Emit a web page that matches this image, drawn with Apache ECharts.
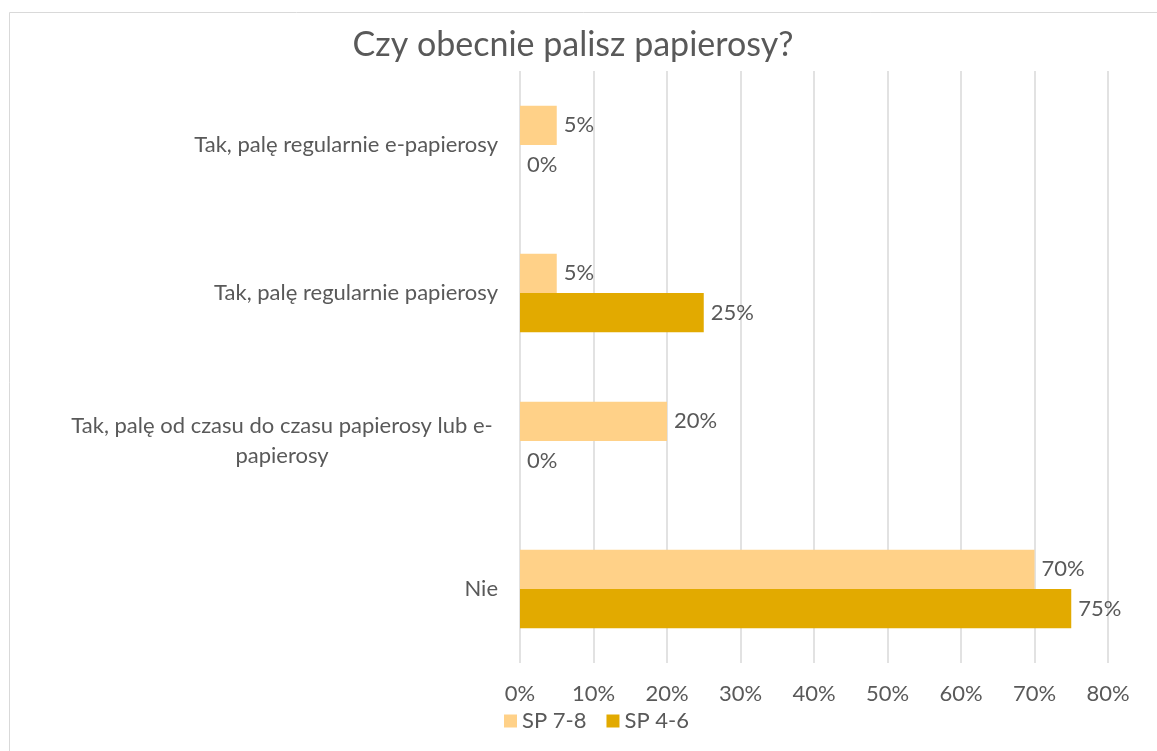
<!DOCTYPE html>
<html><head><meta charset="utf-8">
<script src="https://cdn.jsdelivr.net/npm/echarts@6/dist/echarts.min.js"></script>
<style>html,body{margin:0;padding:0;background:#fff}#c{width:1157px;height:751px}</style>
</head><body><div id="c"></div>
<script>
const categories = ["Tak, palę regularnie e-papierosy", "Tak, palę regularnie papierosy", "Tak, palę od czasu do czasu papierosy lub e-\npapierosy", "Nie"];
const seriesNames = ["SP 7-8", "SP 4-6"];
const sp78 = [5, 5, 20, 70];
const sp46 = [0, 25, 0, 75];
const xTicks = [0, 10, 20, 30, 40, 50, 60, 70, 80];

const FONT = 'Lato';
const FS = 22;
const GREY = '#595959';
const chart = echarts.init(document.getElementById('c'), null, {renderer: 'canvas'});
chart.setOption({
  animation: false,
  backgroundColor: '#fff',
  graphic: [{type: 'rect', shape: {x: 9.5, y: 12.5, width: 1160, height: 760}, style: {fill: 'none', stroke: '#d9d9d9', lineWidth: 1}}],
  title: {text: 'Czy obecnie palisz papierosy?', left: 568, top: 23, textAlign: 'center',
    textStyle: {fontFamily: FONT, fontSize: 34, fontWeight: 'normal', color: GREY}},
  legend: {left: 504, top: 710, padding: 0, itemWidth: 13, itemHeight: 13, itemGap: 20, icon: 'rect',
    textStyle: {fontFamily: FONT, fontSize: FS, color: GREY}, data: seriesNames},
  grid: {left: 520, right: 49, top: 71, bottom: 88, containLabel: false},
  xAxis: {type: 'value', min: xTicks[0], max: xTicks[xTicks.length - 1], interval: 10,
    axisLine: {show: false}, axisTick: {show: false},
    splitLine: {lineStyle: {color: '#d9d9d9', width: 1.5}},
    axisLabel: {formatter: v => v + '%', fontFamily: FONT, fontSize: FS, color: GREY, margin: 20}},
  yAxis: {type: 'category', data: categories, inverse: true,
    axisLine: {show: false}, axisTick: {show: false},
    axisLabel: {fontFamily: FONT, fontSize: FS, color: GREY, margin: 22, lineHeight: 30,
      formatter: v => v.indexOf('\n') >= 0 ? v.split('\n').map(s => '{c|' + s + '}').join('\n') : v,
      rich: {c: {width: 432, align: 'center', fontFamily: FONT, fontSize: FS, color: GREY, lineHeight: 30}}}},
  series: [
    {name: seriesNames[0], type: 'bar', data: sp78, barGap: '0%', barCategoryGap: '47%',
      itemStyle: {color: '#FFD188'},
      label: {show: true, position: 'right', distance: 7, formatter: '{c}%', fontFamily: FONT, fontSize: FS, color: GREY}},
    {name: seriesNames[1], type: 'bar', data: sp46, barGap: '0%', barCategoryGap: '47%',
      itemStyle: {color: '#E2AA00'},
      label: {show: true, position: 'right', distance: 7, formatter: '{c}%', fontFamily: FONT, fontSize: FS, color: GREY}}
  ]
});
</script></body></html>
